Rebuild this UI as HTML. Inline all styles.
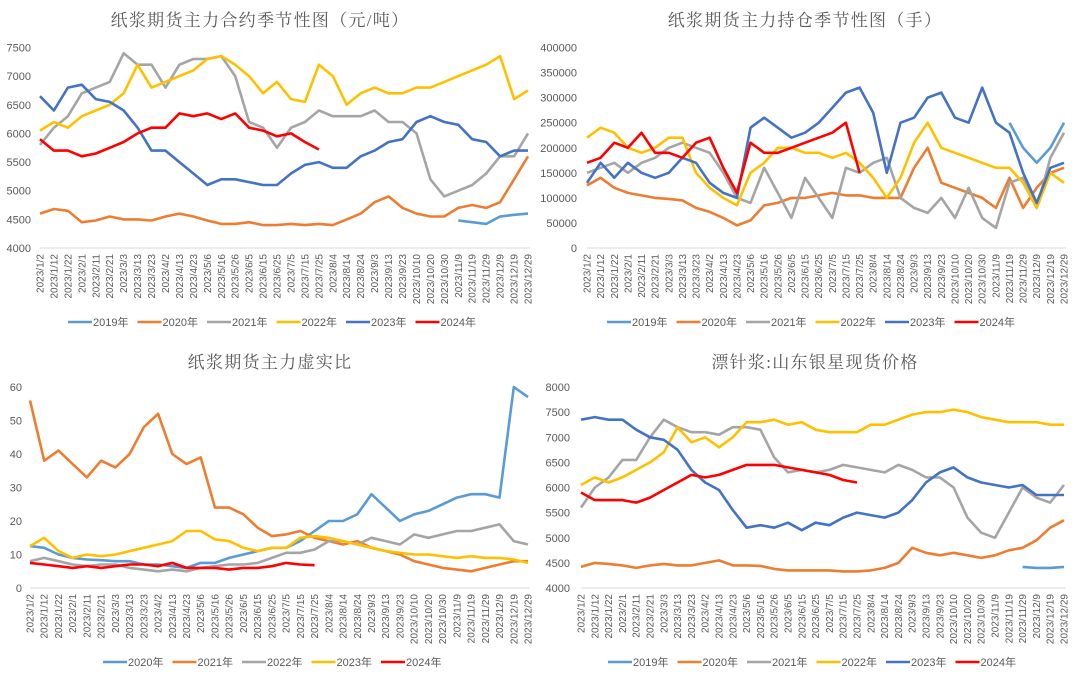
<!DOCTYPE html>
<html><head><meta charset="utf-8">
<style>
html,body{margin:0;padding:0;background:#fff;}
svg{display:block;font-family:"Liberation Sans","Noto Sans CJK SC",sans-serif;}
.t{font-family:"Liberation Serif","Noto Serif CJK SC",serif;font-size:17px;fill:#595959;letter-spacing:1.3px;}
.yl{font-size:11px;fill:#595959;}
.xl{font-size:10px;fill:#595959;}
.lg{font-size:11px;fill:#595959;}
</style></head>
<body>
<svg id="c" width="1080" height="680" viewBox="0 0 1080 680"></svg>
<script>
const dates = ["1/2","1/12","1/22","2/1","2/11","2/21","3/3","3/13","3/23","4/2","4/13","4/23","5/6","5/16","5/26","6/5","6/15","6/25","7/5","7/15","7/25","8/4","8/14","8/24","9/3","9/13","9/23","10/10","10/20","10/30","11/9","11/19","11/29","12/9","12/19","12/29"];
const N = null;
// Panel 1: futures price
const p1_2019 = [N,N,N,N,N,N,N,N,N,N,N,N,N,N,N,N,N,N,N,N,N,N,N,N,N,N,N,N,N,N,4480,4450,4420,4550,4580,4600];
const p1_2020 = [4600,4680,4650,4450,4480,4550,4500,4500,4480,4550,4600,4550,4480,4420,4420,4450,4400,4400,4420,4400,4420,4400,4500,4600,4800,4900,4700,4600,4550,4550,4700,4750,4700,4800,5200,5600];
const p1_2021 = [5800,6100,6300,6700,6800,6900,7400,7200,7200,6800,7200,7300,7300,7350,7000,6200,6100,5750,6100,6200,6400,6300,6300,6300,6400,6200,6200,6000,5200,4900,5000,5100,5300,5600,5600,6000];
const p1_2022 = [6050,6200,6100,6300,6400,6500,6700,7200,6800,6900,7000,7100,7300,7350,7200,7000,6700,6900,6600,6550,7200,7000,6500,6700,6800,6700,6700,6800,6800,6900,7000,7100,7200,7350,6600,6750];
const p1_2023 = [6650,6400,6800,6850,6600,6550,6400,6100,5700,5700,5500,5300,5100,5200,5200,5150,5100,5100,5300,5450,5500,5400,5400,5600,5700,5850,5900,6200,6300,6200,6150,5900,5850,5600,5700,5700];
const p1_2024 = [5900,5700,5700,5600,5650,5750,5850,6000,6100,6100,6350,6300,6350,6250,6350,6100,6050,5950,6000,5850,5720];
// Panel 2: open interest
const p2_2019 = [N,N,N,N,N,N,N,N,N,N,N,N,N,N,N,N,N,N,N,N,N,N,N,N,N,N,N,N,N,N,N,250000,200000,170000,200000,250000];
const p2_2020 = [125000,140000,120000,110000,105000,100000,98000,95000,80000,72000,60000,45000,55000,85000,90000,100000,100000,105000,110000,105000,105000,100000,100000,100000,160000,200000,130000,120000,110000,100000,80000,140000,80000,120000,150000,160000];
const p2_2021 = [150000,160000,170000,150000,170000,180000,200000,210000,200000,190000,150000,100000,90000,160000,110000,60000,140000,100000,60000,160000,150000,170000,180000,100000,80000,70000,100000,60000,120000,60000,40000,130000,140000,80000,180000,230000];
const p2_2022 = [220000,240000,230000,200000,190000,200000,220000,220000,150000,120000,100000,85000,150000,170000,200000,200000,190000,190000,180000,190000,170000,140000,100000,140000,210000,250000,200000,190000,180000,170000,160000,160000,130000,80000,150000,130000];
const p2_2023 = [130000,170000,140000,170000,150000,140000,150000,180000,170000,130000,110000,100000,240000,260000,240000,220000,230000,250000,280000,310000,320000,270000,150000,250000,260000,300000,310000,260000,250000,320000,250000,230000,150000,90000,160000,170000];
const p2_2024 = [170000,180000,210000,200000,230000,190000,190000,180000,210000,220000,160000,110000,210000,190000,190000,200000,210000,220000,230000,250000,150000];
// Panel 3: ratio
const p3_2020 = [12.5,12,10,9,8.5,8.3,8,8,7,7,6.5,6,7.5,7.5,9,10,11,12,12,14,17,20,20,22,28,24,20,22,23,25,27,28,28,27,60,57];
const p3_2021 = [56,38,41,37,33,38,36,40,48,52,40,37,39,24,24,22,18,15.5,16,17,15,14,13,14,12,11,10,8,7,6,5.5,5,6,7,8,8];
const p3_2022 = [8,9,8,7,6.5,7,7,6,5.5,5,5.5,5,6,6.5,7,7,7.5,9,10.5,10.5,11.5,14,14,13,15,14,13,16,15,16,17,17,18,19,14,13];
const p3_2023 = [12.5,15,11,9,10,9.5,10,11,12,13,14,17,17,14.5,14,12,11,12,12,15,15.5,15,14,13,12,11,10.5,10,10,9.5,9,9.5,9,9,8.5,7.5];
const p3_2024 = [7.5,7,6.5,6,6.5,6,6.5,7,7,6.5,7.5,6,6,6,5.5,6,6,6.5,7.5,7,6.8];
// Panel 4: spot price
const p4_2019 = [N,N,N,N,N,N,N,N,N,N,N,N,N,N,N,N,N,N,N,N,N,N,N,N,N,N,N,N,N,N,N,N,4420,4400,4400,4420];
const p4_2020 = [4420,4500,4480,4450,4400,4450,4480,4450,4450,4500,4550,4450,4450,4440,4380,4350,4350,4350,4350,4330,4330,4350,4400,4500,4800,4700,4650,4700,4650,4600,4650,4750,4800,4950,5200,5350];
const p4_2021 = [5600,6000,6200,6550,6550,7000,7350,7200,7100,7100,7050,7200,7200,7150,6600,6300,6350,6300,6350,6450,6400,6350,6300,6450,6350,6200,6200,6000,5400,5100,5000,5500,6000,5800,5700,6050];
const p4_2022 = [6050,6200,6100,6200,6350,6500,6700,7200,6900,7000,6800,7000,7300,7300,7350,7250,7300,7150,7100,7100,7100,7250,7250,7350,7450,7500,7500,7550,7500,7400,7350,7300,7300,7300,7250,7250];
const p4_2023 = [7350,7400,7350,7350,7150,7000,6950,6750,6350,6100,5950,5550,5200,5250,5200,5300,5150,5300,5250,5400,5500,5450,5400,5500,5750,6100,6300,6400,6200,6100,6050,6000,6050,5850,5850,5850];
const p4_2024 = [5900,5750,5750,5750,5700,5800,5950,6100,6250,6200,6250,6350,6450,6450,6450,6400,6350,6300,6250,6150,6100];
const p1_ticks = [4000,4500,5000,5500,6000,6500,7000,7500];
const p2_ticks = [0,50000,100000,150000,200000,250000,300000,350000,400000];
const p3_ticks = [0,10,20,30,40,50,60];
const p4_ticks = [4000,4500,5000,5500,6000,6500,7000,7500,8000];

const PAL6 = ["#5B9BD5","#ED7D31","#A5A5A5","#FFC000","#4472C4","#FF0000"];
const PAL5 = ["#5B9BD5","#ED7D31","#A5A5A5","#FFC000","#FF0000"];
const NS = "http://www.w3.org/2000/svg";
const svg = document.getElementById('c');
function mk(tag, attrs, parent){const e=document.createElementNS(NS,tag);for(const k in attrs)e.setAttribute(k,attrs[k]);(parent||svg).appendChild(e);return e;}

function panel(id, title, tx, ty, x0, x1, yTop, yBot, ticks, labX, series, legY, legX, pal){
  const g = mk('g',{});
  
  
  const mn = ticks[0], mx = ticks[ticks.length-1];
  const X = i => x0 + i*(x1-x0)/(dates.length-1);
  const Y = v => yBot - (v-mn)/(mx-mn)*(yBot-yTop);
  const t = mk('text',{x:tx,y:ty,'text-anchor':'middle',class:'t'},g);
  t.textContent = title;
  
  
  ticks.forEach(v=>{
    const e = mk('text',{x:labX,y:Y(v)+4,'text-anchor':'end',class:'yl'},g);
    e.textContent = v;
    
    
  });
  const ax = mk('line',{x1:x0,x2:x1+2,y1:yBot,y2:yBot,stroke:'#D9D9D9','stroke-width':1},g);
  
  
  dates.forEach((d,i)=>{
    const e = mk('text',{x:0,y:0,'text-anchor':'end',class:'xl',transform:`translate(${X(i)+3.5},${yBot+6}) rotate(-90)`},g);
    e.textContent = '2023/'+d;
    
    
  });
  series.forEach(([name,arr],k)=>{
    let d='', pen=false;
    arr.forEach((v,i)=>{
      if(v===null){pen=false;return;}
      d += (pen?'L':'M')+X(i).toFixed(1)+','+Y(v).toFixed(1);
      pen=true;
    });
    const p = mk('path',{d:d,fill:'none',stroke:pal[k],'stroke-width':2.6,'stroke-linejoin':'round'},g);
    
    
  });
  series.forEach(([name],k)=>{
    const lx = legX + k*69.5;
    const lg = mk('g',{},g);
    
    
    mk('line',{x1:lx,x2:lx+24,y1:legY,y2:legY,stroke:pal[k],'stroke-width':2.6},lg);
    const e = mk('text',{x:lx+25,y:legY+4,class:'lg'},lg);
    e.textContent = name;
  });
}
panel('price-chart','纸浆期货主力合约季节性图（元/吨）',260,26,40,528,47.5,248,p1_ticks,31,
  [["2019年",p1_2019],["2020年",p1_2020],["2021年",p1_2021],["2022年",p1_2022],["2023年",p1_2023],["2024年",p1_2024]],322,68,PAL6);
panel('open-interest-chart','纸浆期货主力持仓季节性图（手）',805,26,587,1064,47.5,248,p2_ticks,577,
  [["2019年",p2_2019],["2020年",p2_2020],["2021年",p2_2021],["2022年",p2_2022],["2023年",p2_2023],["2024年",p2_2024]],322,607,PAL6);
panel('ratio-chart','纸浆期货主力虚实比',270,368,30,528,387,588,p3_ticks,22,
  [["2020年",p3_2020],["2021年",p3_2021],["2022年",p3_2022],["2023年",p3_2023],["2024年",p3_2024]],662,103,PAL5);
panel('spot-price-chart','漂针浆:山东银星现货价格',815,368,581,1064,387,588,p4_ticks,570,
  [["2019年",p4_2019],["2020年",p4_2020],["2021年",p4_2021],["2022年",p4_2022],["2023年",p4_2023],["2024年",p4_2024]],662,608,PAL6);
</script>
</body></html>
